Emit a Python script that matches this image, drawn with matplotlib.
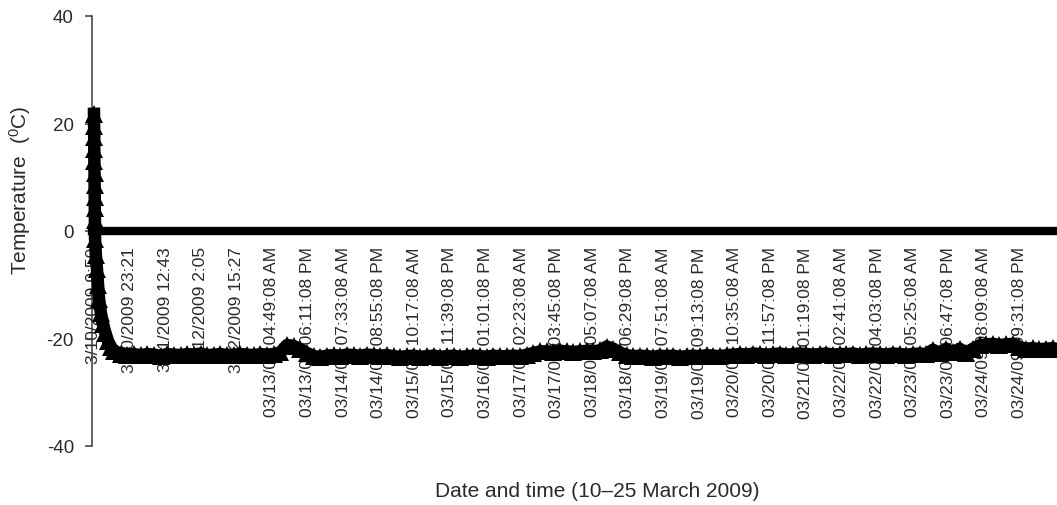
import numpy as np
import matplotlib
matplotlib.use("Agg")
import matplotlib.pyplot as plt

plt.rcParams['font.family'] = ['Liberation Sans', 'DejaVu Sans']
plt.rcParams['axes.unicode_minus'] = False
plt.rcParams['mathtext.fontset'] = 'custom'
plt.rcParams['mathtext.rm'] = 'Liberation Sans'

# ---- data -------------------------------------------------------------
# x-axis category labels (one every 802 minutes of logging)
tick_labels = [
    "3/10/2009 9:50", "3/10/2009 23:21", "3/11/2009 12:43", "3/12/2009 2:05",
    "3/12/2009 15:27", "03/13/09 04:49:08 AM", "03/13/09 06:11:08 PM",
    "03/14/09 07:33:08 AM", "03/14/09 08:55:08 PM", "03/15/09 10:17:08 AM",
    "03/15/09 11:39:08 PM", "03/16/09 01:01:08 PM", "03/17/09 02:23:08 AM",
    "03/17/09 03:45:08 PM", "03/18/09 05:07:08 AM", "03/18/09 06:29:08 PM",
    "03/19/09 07:51:08 AM", "03/19/09 09:13:08 PM", "03/20/09 10:35:08 AM",
    "03/20/09 11:57:08 PM", "03/21/09 01:19:08 PM", "03/22/09 02:41:08 AM",
    "03/22/09 04:03:08 PM", "03/23/09 05:25:08 AM", "03/23/09 06:47:08 PM",
    "03/24/09 08:09:08 AM", "03/24/09 09:31:08 PM",
]
label_step_h = 802 / 60.0

# initial cool-down (hours since start, temperature in degC)
cooldown_hours = [0, 0.04, 0.08, 0.12, 0.16, 0.2, 0.24, 0.28, 0.32, 0.36,
                  0.4, 0.7, 1.1, 1.5, 1.9, 2.6, 3.4, 4.3, 5.3, 6.4]
cooldown_temp = [21.8, 19.6, 17.4, 15.2, 13.0, 10.8, 8.6, 6.4, 4.2, 2.0,
                 -1.5, -4.5, -7.0, -10.0, -12.7, -15.3, -17.3, -19.0, -20.5, -21.6]

# storage period, logged every 2.5 h starting 7.5 h after start
storage_start_h = 7.5
storage_step_h = 2.5
storage_temp = [
    -22.3, -22.8, -23.0, -22.9, -23.1, -22.9, -23.0, -23.2, -22.9, -23.0,
    -23.1, -22.9, -23.0, -22.8, -23.1, -23.0, -22.9, -23.1, -23.0, -22.9,
    -23.0, -23.1, -22.9, -23.0, -22.9, -22.6, -21.2, -21.4, -22.0, -22.7,
    -23.3, -23.4, -23.2, -23.1, -23.2, -23.0, -23.1, -23.2, -23.0, -23.1,
    -23.2, -23.1, -23.3, -23.4, -23.3, -23.2, -23.4, -23.3, -23.2, -23.4,
    -23.3, -23.2, -23.4, -23.3, -23.2, -23.3, -23.4, -23.2, -23.3, -23.3,
    -23.2, -23.3, -23.0, -22.7, -22.4, -22.4, -22.5, -22.3, -22.4, -22.5,
    -22.4, -22.3, -22.4, -22.2, -21.5, -21.9, -22.6, -23.1, -23.3, -23.2,
    -23.3, -23.4, -23.2, -23.3, -23.2, -23.4, -23.3, -23.2, -23.3, -23.1,
    -23.2, -23.3, -23.1, -23.0, -22.9, -23.0, -22.8, -22.9, -23.0, -22.9,
    -22.8, -23.0, -22.9, -22.8, -22.9, -23.0, -22.9, -22.8, -23.0, -22.9,
    -22.9, -22.8, -23.0, -22.9, -22.8, -22.9, -23.0, -22.8, -22.9, -23.0,
    -22.9, -22.8, -22.9, -22.1, -22.7, -21.9, -22.6, -21.9, -22.7, -21.9,
    -21.3, -21.1, -21.0, -21.2, -21.1, -21.0, -21.6, -21.9, -21.8, -22.0,
    -21.9, -21.8, -22.0, -21.9,
]

y_ticks = [-40, -20, 0, 20, 40]

# ---- build series ----------------------------------------------------
storage_hours = storage_start_h + storage_step_h * np.arange(len(storage_temp))
hours = np.concatenate([cooldown_hours, storage_hours])
temps = np.concatenate([cooldown_temp, storage_temp])
tick_pos = label_step_h * np.arange(len(tick_labels))

# ---- figure ----------------------------------------------------------
W, H = 1057, 506
fig = plt.figure(figsize=(W / 100, H / 100), dpi=100)
ax = fig.add_axes([92 / W, 59 / H, (W - 92) / W, 430 / H])

ax.plot(hours, temps, color='black', lw=9, marker='^', ms=12.5,
        markeredgewidth=0, zorder=3, clip_on=False, solid_joinstyle='round')

ax.set_xlim(-0.75, 361.6)
ax.set_ylim(-40, 40)

for s in ['top', 'right']:
    ax.spines[s].set_visible(False)
ax.spines['bottom'].set_position(('data', 0))
ax.spines['bottom'].set_linewidth(6)
ax.spines['bottom'].set_color('black')
ax.spines['left'].set_linewidth(1.1)
ax.spines['left'].set_color('#3a3a3a')

ax.set_yticks(y_ticks)
ax.set_yticklabels([str(v) for v in y_ticks])
ax.tick_params(axis='y', direction='out', length=5, width=1.1,
               color='#3a3a3a', labelsize=13.5, labelcolor='#2a2a2a', pad=8)

ax.set_xticks(tick_pos)
ax.set_xticklabels(tick_labels, rotation=90)
ax.tick_params(axis='x', length=0, labelsize=12.5, labelcolor='#2a2a2a', pad=11)

fig.text(597 / W, 1 - 492 / H, 'Date and time (10\u201325 March 2009)',
         ha='center', va='center', fontsize=15, color='#2a2a2a')
fig.text(20 / W, 1 - 190 / H, r'Temperature  ($\mathregular{^{0}}$C)',
         ha='center', va='center', rotation=90, fontsize=15, color='#2a2a2a')

fig.savefig('out.png', dpi=100)
